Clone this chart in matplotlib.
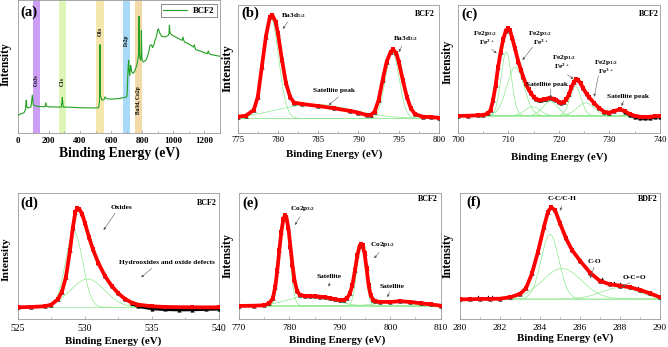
import numpy as np
import matplotlib
matplotlib.use('Agg')
import matplotlib.pyplot as plt
from matplotlib.ticker import MultipleLocator

plt.rcParams['font.family'] = ['Liberation Serif', 'DejaVu Serif']
plt.rcParams['mathtext.fontset'] = 'custom'
plt.rcParams['mathtext.rm'] = 'Liberation Serif:bold'
plt.rcParams['mathtext.it'] = 'Liberation Serif:bold'
plt.rcParams['mathtext.bf'] = 'Liberation Serif:bold'

# ---------------- data ----------------
# (a) survey
a_be = [0, 10, 20, 40, 50, 55, 58, 62, 75, 85, 90, 94, 100, 120, 170, 177, 180, 184, 200, 250, 280, 284, 287, 292,
        350, 400, 450, 500, 520, 526, 529, 532, 540, 555, 561, 570, 600, 650, 700, 704, 707, 710, 713, 716, 720, 723,
        726, 730, 733, 743, 755, 765, 773, 777, 780, 783, 786, 790, 793, 795, 797, 799, 808, 820, 829, 840, 850, 860,
        867, 875, 882, 890, 900, 905, 910, 925, 947, 968, 972, 975, 978, 981, 996, 1022, 1056, 1062, 1066, 1071,
        1097, 1129, 1135, 1140, 1144, 1172, 1204, 1219, 1225, 1230, 1236, 1268, 1300]
a_int = [13.3, 13.5, 14.3, 15.0, 17.5, 24.6, 20.0, 18.8, 19.0, 19.5, 24.0, 28.4, 21.0, 20.0, 19.6, 20.0, 22.6, 20.0,
         19.6, 19.4, 19.4, 23.0, 26.6, 19.4, 19.2, 18.9, 18.8, 18.7, 19.0, 24.0, 66.6, 28.0, 24.8, 25.0, 27.1, 25.8,
         25.4, 25.8, 27.0, 30.0, 42.0, 50.0, 54.8, 47.0, 43.5, 47.0, 51.0, 48.0, 46.0, 44.8, 47.5, 51.0, 56.0, 60.0,
         88.0, 58.0, 56.0, 55.0, 60.0, 77.4, 62.0, 54.8, 53.5, 54.5, 56.0, 60.0, 66.0, 66.5, 64.3, 66.5, 69.8, 72.0,
         77.9, 78.5, 76.1, 72.9, 72.4, 73.6, 75.0, 81.2, 76.0, 74.9, 73.6, 71.9, 69.8, 72.4, 70.5, 68.6, 67.3, 64.8,
         66.5, 64.0, 62.8, 61.8, 60.3, 59.8, 61.8, 60.0, 59.3, 58.5, 57.8]
a_bands = [(96, 143), (265, 308), (503, 555), (677, 720), (754, 799)]
a_band_labels = ['Co3s', 'C1s', 'O1s', 'Fe2p', 'Ba3d, Co2p']
a_legend = 'BCF2'

# (b) Ba 3d
b_be = [775, 776, 777, 777.5, 778, 778.5, 779, 779.3, 779.7, 780, 780.5, 781, 781.5, 782, 783, 785, 787, 789, 790, 791,
        791.5, 792, 792.5, 793, 793.5, 794, 794.3, 794.7, 795, 795.5, 796, 796.5, 797, 798, 799, 800]
b_int = [12.5, 13.3, 17.8, 28.2, 51.7, 75.2, 90.9, 92.2, 87.0, 77.8, 56.9, 38.6, 28.2, 23.5, 22.5, 20.9, 19.1, 17.0,
         15.7, 13.8, 13.8, 16.4, 25.6, 41.3, 55.6, 63.4, 65.3, 62.1, 55.6, 41.3, 28.2, 19.1, 14.6, 12.5, 12.2, 11.7]
b_base = 11.2
b_centers = [779.1, 784.5, 794.2]
b_heights = [79.0, 11.0, 52.0]
b_fwhm = [2.3, 11.0, 2.0]

# (c) Fe 2p
c_be = [700, 702, 704, 705, 706, 706.5, 707, 707.5, 708, 708.5, 709, 709.5, 709.9, 710.3, 710.8, 711.3, 712, 712.5,
        713, 713.5, 714, 714.5, 715, 715.5, 716, 716.5, 717, 717.5, 718.2, 719, 719.5, 720, 720.5, 721, 721.5, 722,
        722.5, 723, 723.4, 723.8, 724.3, 724.8, 725.5, 726, 727, 728, 729, 730, 731, 732, 733, 734, 735, 736, 737,
        738, 739, 740]
c_int = [13.1, 13.3, 13.6, 13.8, 15.1, 17.8, 25.6, 37.3, 51.7, 63.4, 73.1, 79.9, 81.7, 80.4, 73.9, 66.1, 55.6, 49.1,
         43.3, 38.1, 33.9, 30.8, 28.2, 26.4, 25.6, 25.6, 26.1, 26.6, 27.2, 26.6, 25.6, 24.3, 23.5, 24.0, 26.1, 30.0,
         35.5, 39.9, 41.8, 41.3, 38.6, 34.7, 30.3, 27.7, 23.0, 19.1, 16.4, 15.7, 17.0, 18.3, 17.0, 14.6, 13.3, 12.5,
         12.3, 12.5, 12.8, 13.1]
c_raw_be = [733, 734, 735, 736, 737, 738, 739, 740]
c_raw_int = [16.4, 13.8, 12.3, 11.4, 11.2, 11.6, 12.2, 12.6]
c_base = 13.3
c_centers = [709.6, 711.4, 714.8, 718.3, 723.3, 725.3, 732.2]
c_heights = [50.0, 38.0, 7.0, 11.0, 23.0, 10.0, 4.5]
c_fwhm = [2.4, 4.0, 3.5, 3.5, 2.6, 4.0, 3.5]

# (d) O 1s
d_be = [525, 526, 527, 527.5, 528, 528.3, 528.6, 528.9, 529.1, 529.3, 529.45, 529.6, 529.8, 530, 530.3, 530.6, 531,
        531.5, 532, 532.5, 533, 533.5, 534, 535, 536, 538, 540]
d_int = [9.5, 9.8, 10.3, 11.6, 15.9, 22.0, 33.9, 55.0, 72.2, 85.4, 88.1, 87.3, 83.6, 76.7, 65.6, 55.6, 45.0, 34.4,
         26.5, 20.6, 16.1, 13.2, 11.6, 10.3, 9.8, 9.5, 9.5]
d_raw_be = [533.5, 534, 535, 536, 537, 538, 539, 540]
d_raw_int = [12.6, 10.2, 8.4, 7.8, 7.5, 7.6, 7.9, 8.2]
d_base = 9.5
d_centers = [529.2, 530.2]
d_heights = [60.0, 22.5]
d_fwhm = [1.5, 3.0]

# (e) Co 2p
e_be = [770, 773, 775, 776, 776.7, 777.2, 777.6, 778, 778.4, 778.8, 779.1, 779.4, 779.8, 780.2, 780.6, 781, 781.5,
        782, 783, 784, 785, 786, 787, 788, 789, 790, 790.8, 791.5, 792, 792.5, 793, 793.5, 793.9, 794.2, 794.5, 794.9,
        795.3, 795.7, 796.1, 796.6, 797, 798, 800, 802, 804, 806, 808, 810]
e_int = [10.6, 10.8, 11.1, 12.7, 16.7, 25.9, 39.2, 55.0, 69.6, 79.4, 82.5, 81.0, 72.2, 57.7, 43.1, 31.2, 22.8, 19.6,
         18.5, 18.3, 18.3, 18.0, 17.5, 16.7, 15.9, 15.3, 15.3, 17.2, 20.6, 27.2, 39.2, 51.1, 58.2, 59.8, 58.7, 52.4,
         40.5, 27.2, 19.3, 15.3, 14.3, 13.8, 13.8, 14.3, 13.8, 12.7, 11.9, 10.8]
e_base = 10.6
e_centers = [779.1, 784.0, 794.2, 800.5]
e_heights = [70.0, 8.0, 47.0, 3.0]
e_fwhm = [2.2, 10.0, 2.0, 8.0]

# (f) C 1s
f_be = [280, 280.5, 281, 281.5, 282, 282.5, 283, 283.3, 283.6, 283.9, 284.2, 284.4, 284.55, 284.75, 285, 285.3,
        285.6, 286, 286.5, 287, 287.5, 288, 288.5, 289, 289.5, 290]
f_int = [15.8, 15.8, 16.1, 16.1, 16.3, 17.4, 20.0, 24.5, 36.3, 53.4, 73.2, 85.0, 88.4, 86.3, 75.8, 63.9, 54.7, 46.3,
         36.8, 30.3, 27.6, 26.6, 25.3, 23.2, 20.5, 17.4]
f_raw_be = [280.9, 281.4, 281.6, 287.1, 287.7, 288.0, 288.9]
f_raw_int = [18.0, 17.9, 17.6, 31.5, 28.8, 28.0, 25.0]
f_base = 16.1
f_centers = [284.5, 285.1, 288.0]
f_heights = [51.0, 24.0, 9.0]
f_fwhm = [1.05, 2.3, 2.2]

# ---------------- layout ----------------
W, H = 668, 347
fig = plt.figure(figsize=(W / 100, H / 100), dpi=100)


def box(l, t, r, b):
    return [l / W, 1 - b / H, (r - l) / W, (b - t) / H]


SPINE = '0.6'
GREEN_C = '#8ee88e'
B = 'bold'


def style(ax, xlim, major, minor, bold_ticks=False, fs=6.5, pad=2.5):
    ax.set_xlim(*xlim)
    ax.set_ylim(0, 100)
    ax.set_yticks([])
    ax.xaxis.set_major_locator(MultipleLocator(major))
    ax.xaxis.set_minor_locator(MultipleLocator(minor))
    ax.tick_params(axis='x', which='major', direction='in', length=2.5, width=0.5, color=SPINE,
                   labelsize=fs, pad=pad)
    ax.tick_params(axis='x', which='minor', direction='in', length=1.5, width=0.5, color=SPINE)
    for lab in ax.get_xticklabels():
        lab.set_fontweight('bold' if bold_ticks else 'normal')
    for s in ax.spines.values():
        s.set_color(SPINE)
        s.set_linewidth(0.6)


def gauss_curves(ax, xlim, base, centers, heights, fwhm):
    xs = np.linspace(xlim[0], xlim[1], 800)
    ax.plot(xs, np.full_like(xs, base), color=GREEN_C, lw=0.5, zorder=2)
    for c, h, w in zip(centers, heights, fwhm):
        s = w / 2.3548
        ax.plot(xs, base + h * np.exp(-0.5 * ((xs - c) / s) ** 2), color=GREEN_C, lw=0.5, zorder=2)


def spectrum(ax, be, inten, raw_be=None, raw_int=None, raw_line=False):
    ax.plot(be, inten, '^', color='black', ms=3.0, mew=0, zorder=3)
    if raw_be is not None:
        if raw_line:
            ax.plot(raw_be, raw_int, '-', color='black', lw=2.2, zorder=3)
        ax.plot(raw_be, raw_int, '^', color='black', ms=3.0, mew=0, zorder=3)
    ax.plot(be, inten, '-', color='red', lw=2.7, zorder=4)
    ax.plot(be, inten, 's', color='red', ms=2.7, mew=0, zorder=4)


def note(ax, text, xy_text, ha='center', fs=5.3):
    ax.text(*xy_text, text, fontsize=fs, fontweight=B, ha=ha, va='center', zorder=6)


def arrow(ax, start, tip):
    ax.annotate('', xy=tip, xytext=start,
                arrowprops=dict(arrowstyle='-|>', color='0.35', lw=0.4, mutation_scale=3.5,
                                shrinkA=0, shrinkB=0), zorder=6)


def panel_label(ax, lab, x, y, tag, tx, ty):
    ax.text(x, y, lab, fontsize=10.5, fontweight=B, ha='left', va='center', zorder=7)
    ax.text(tx, ty, tag, fontsize=5.8, fontweight=B, ha='right', va='center', zorder=7)


# ---------------- (a) ----------------
axa = fig.add_axes(box(17.7, 0.5, 220, 132.7))
style(axa, (0, 1300), 200, 100, bold_ticks=True, fs=6.5, pad=3)
band_cols = [(0.80, 0.62, 0.96), (0.87, 0.96, 0.72), (0.96, 0.90, 0.68), (0.66, 0.85, 0.97), (0.95, 0.85, 0.66)]
band_y = [39.7, 38.4, 77.0, 70.0, 24.6]
for (lo, hi), col, lab, yy in zip(a_bands, band_cols, a_band_labels, band_y):
    axa.axvspan(lo, hi, color=col, lw=0, zorder=1)
    axa.text((lo + hi) / 2, yy, lab, rotation=90, fontsize=4, fontweight=B, ha='center', va='center', zorder=5)
axa.plot(a_be, a_int, color='#22a022', lw=0.8, zorder=3, label=a_legend)
leg = axa.legend(loc='upper right', frameon=True, fancybox=False, handlelength=2.8,
                 borderpad=0.3, handletextpad=0.6, borderaxespad=0.4, prop={'weight': 'bold', 'size': 6.2})
leg.get_frame().set_edgecolor('0.2')
leg.get_frame().set_linewidth(0.5)
axa.text(15, 91, '(a)', fontsize=10.5, fontweight=B, ha='left', va='center', zorder=7)

# ---------------- (b) ----------------
axb = fig.add_axes(box(237.7, 5, 439, 132.7))
style(axb, (775, 800), 5, 2.5, fs=6.2)
gauss_curves(axb, (775, 800), b_base, b_centers, b_heights, b_fwhm)
spectrum(axb, b_be, b_int)
panel_label(axb, '(b)', 775.5, 93.5, 'BCF2', 799.5, 93)
note(axb, r'Ba3d$_{5/2}$', (780.4, 92), ha='left')
arrow(axb, (781.2, 86.7), (780.6, 81.2))
note(axb, r'Ba3d$_{3/2}$', (794.3, 73.9), ha='left')
arrow(axb, (795.4, 67.9), (795.0, 63.2))
note(axb, 'Satellite peak', (787.0, 33.4))
arrow(axb, (787.5, 27.9), (786.3, 21.6))

# ---------------- (c) ----------------
axc = fig.add_axes(box(457.7, 5, 660, 132.7))
style(axc, (700, 740), 10, 5, fs=6.5)
gauss_curves(axc, (700, 740), c_base, c_centers, c_heights, c_fwhm)
spectrum(axc, c_be, c_int, c_raw_be, c_raw_int, raw_line=True)
panel_label(axc, '(c)', 700.8, 93, 'BCF2', 739.7, 93)
note(axc, r'Fe2p$_{3/2}$', (705.3, 77.8))
note(axc, r'Fe$^{2+}$', (705.7, 70.5))
arrow(axc, (706.7, 65.3), (707.7, 62.2))
note(axc, r'Fe2p$_{3/2}$', (716.3, 77.8))
note(axc, r'Fe$^{3+}$', (716.4, 70.5))
arrow(axc, (714.8, 66.9), (712.8, 56.9))
note(axc, 'Satellite peak', (717.7, 38.1))
arrow(axc, (718.4, 34.0), (718.4, 26.9))
note(axc, r'Fe2p$_{1/2}$', (721.0, 59.0))
note(axc, r'Fe$^{2+}$', (720.7, 51.7))
arrow(axc, (721.7, 45.4), (722.9, 42.0))
note(axc, r'Fe2p$_{1/2}$', (729.4, 54.8))
note(axc, r'Fe$^{3+}$', (729.3, 47.8))
arrow(axc, (727.8, 44.4), (727.0, 28.2))
note(axc, 'Satellite peak', (733.7, 28.7))
arrow(axc, (732.8, 24.8), (732.4, 20.9))

# ---------------- (d) ----------------
axd = fig.add_axes(box(17.7, 193.3, 219, 319.3))
style(axd, (525, 540), 5, 2.5, fs=7, pad=3.5)
gauss_curves(axd, (525, 540), d_base, d_centers, d_heights, d_fwhm)
spectrum(axd, d_be, d_int, d_raw_be, d_raw_int, raw_line=True)
panel_label(axd, '(d)', 525.2, 92, 'BCF2', 539.8, 92)
note(axd, 'Oxides', (532.7, 88.9))
arrow(axd, (532.25, 84.1), (531.4, 70.9))
note(axd, 'Hydrooxides and oxide defects', (536.1, 45.2))
arrow(axd, (535.0, 40.5), (534.2, 33.3))

# ---------------- (e) ----------------
axe = fig.add_axes(box(239, 193.3, 440.7, 319.3))
style(axe, (770, 810), 10, 5, fs=6.8, pad=3.5)
gauss_curves(axe, (770, 810), e_base, e_centers, e_heights, e_fwhm)
spectrum(axe, e_be, e_int)
panel_label(axe, '(e)', 770.7, 92, 'BCF2', 809.5, 95.5)
note(axe, r'Co2p$_{3/2}$', (782.6, 88.1))
arrow(axe, (782.1, 81.4), (781.1, 74.8))
note(axe, r'Co2p$_{1/2}$', (798.4, 59.0))
arrow(axe, (797.8, 53.2), (796.8, 48.4))
note(axe, 'Satellite', (787.9, 33.8))
arrow(axe, (788.0, 29.0), (787.8, 25.9))
note(axe, 'Satellite', (800.4, 25.9))
arrow(axe, (799.9, 21.9), (799.4, 17.5))

# ---------------- (f) ----------------
axf = fig.add_axes(box(460, 192.7, 660, 319.3))
style(axf, (280, 290), 2, 1, fs=6.8, pad=3.5)
gauss_curves(axf, (280, 290), f_base, f_centers, f_heights, f_fwhm)
spectrum(axf, f_be, f_int, f_raw_be, f_raw_int)
panel_label(axf, '(f)', 280.3, 92.4, 'BDF2', 289.9, 95)
note(axf, 'C-C/C-H', (285.1, 95.6))
arrow(axf, (285.1, 89.5), (285.0, 85.8))
note(axf, 'C-O', (286.7, 45.5))
arrow(axf, (286.7, 41.1), (286.5, 32.4))
note(axf, 'O-C=O', (288.7, 33.2))
arrow(axf, (288.5, 28.9), (288.1, 25.8))


# ---------------- axis titles ----------------
def ftext(x, y, s, fs, rot=0):
    fig.text(x / W, 1 - y / H, s, fontsize=fs, fontweight=B, rotation=rot, ha='center', va='center')


ftext(119.5, 153, 'Binding Energy (eV)', 9.8)
ftext(334, 154.5, 'Binding Energy (eV)', 7.8)
ftext(559.5, 157, 'Binding Energy (eV)', 7.8)
ftext(113.5, 341, 'Binding Energy (eV)', 7.8)
ftext(337.5, 340, 'Binding Energy (eV)', 7.8)
ftext(565, 338, 'Binding Energy (eV)', 7.8)

ftext(6, 64.5, 'Intensity', 8.3, 90)
ftext(228, 68, 'Intensity', 9.2, 90)
ftext(448, 62, 'Intensity', 8.5, 90)
ftext(6, 259, 'Intensity', 8.2, 90)
ftext(228, 255, 'Intensity', 8.6, 90)
ftext(448, 255, 'Intensity', 8.6, 90)

fig.savefig('out.png', dpi=100)
